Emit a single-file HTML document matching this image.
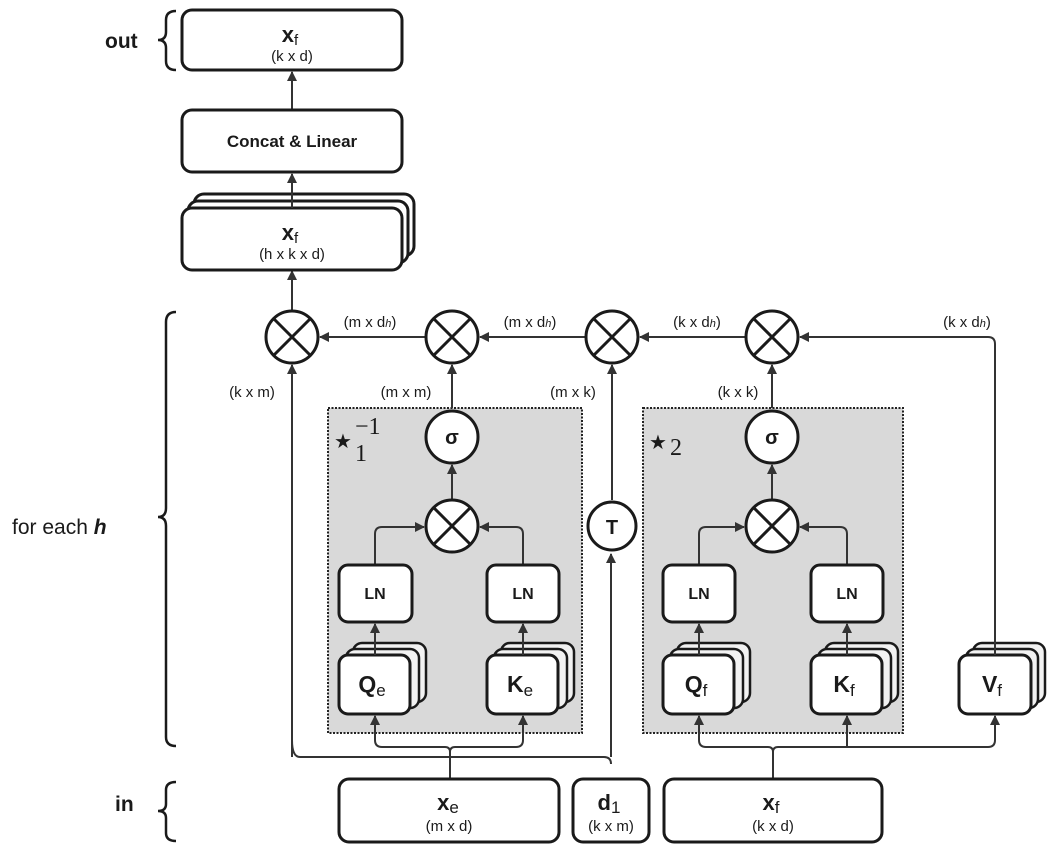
<!DOCTYPE html>
<html><head><meta charset="utf-8"><style>
html,body{margin:0;padding:0;background:#fff;}
svg{display:block;font-family:"Liberation Sans","DejaVu Sans",sans-serif;}
</style></head><body>
<svg width="1058" height="857" viewBox="0 0 1058 857" xmlns="http://www.w3.org/2000/svg">
<defs>
<marker id="a" markerWidth="10" markerHeight="10" refX="9" refY="5" orient="auto" markerUnits="userSpaceOnUse"><path d="M0,0 L10,5 L0,10 z" fill="#333"/></marker>
</defs>
<g fill="none" stroke="#333" stroke-width="2">
<line x1="292" y1="110" x2="292" y2="72" marker-end="url(#a)"/>
<line x1="292" y1="310" x2="292" y2="271" marker-end="url(#a)"/>
<line x1="426" y1="337" x2="320" y2="337" marker-end="url(#a)"/>
<line x1="586" y1="337" x2="480" y2="337" marker-end="url(#a)"/>
<line x1="746" y1="337" x2="640" y2="337" marker-end="url(#a)"/>
<path d="M995,655 L995,344 Q995,337 988,337 L800,337" marker-end="url(#a)"/>
<path d="M611,757 L611,554" marker-end="url(#a)"/>
<line x1="612" y1="500" x2="612" y2="365" marker-end="url(#a)"/>
<path d="M292,740 Q292,757 300,757 L604,757 Q611,757 611,764"/>
<path d="M292,757 L292,365" marker-end="url(#a)"/>
</g>
<rect x="328" y="408" width="254" height="325" fill="#d9d9d9" stroke="#222" stroke-width="2" stroke-dasharray="2,1.5"/>
<rect x="643" y="408" width="260" height="325" fill="#d9d9d9" stroke="#222" stroke-width="2" stroke-dasharray="2,1.5"/>
<g fill="none" stroke="#333" stroke-width="2">
<line x1="452" y1="408" x2="452" y2="365" marker-end="url(#a)"/>
<line x1="772" y1="408" x2="772" y2="365" marker-end="url(#a)"/>
<line x1="452" y1="500" x2="452" y2="465" marker-end="url(#a)"/>
<line x1="772" y1="500" x2="772" y2="465" marker-end="url(#a)"/>
<path d="M375,565 L375,534 Q375,527 382,527 L424,527" marker-end="url(#a)"/>
<path d="M523,565 L523,534 Q523,527 516,527 L480,527" marker-end="url(#a)"/>
<path d="M699,565 L699,534 Q699,527 706,527 L744,527" marker-end="url(#a)"/>
<path d="M847,565 L847,534 Q847,527 840,527 L800,527" marker-end="url(#a)"/>
<path d="M450,779 L450,752 Q450,747 445,747 L382,747 Q375,747 375,740 L375,716" marker-end="url(#a)"/>
<path d="M450,752 Q450,747 455,747 L516,747 Q523,747 523,740 L523,716" marker-end="url(#a)"/>
<path d="M773,779 L773,752 Q773,747 768,747 L706,747 Q699,747 699,740 L699,716" marker-end="url(#a)"/>
<path d="M773,752 Q773,747 778,747 L988,747 Q995,747 995,740 L995,716" marker-end="url(#a)"/>
<line x1="847" y1="747" x2="847" y2="716" marker-end="url(#a)"/>
</g>
<g stroke="#1a1a1a" stroke-width="3" fill="#fff">
<rect x="182" y="10" width="220" height="60" rx="10"/>
<rect x="182" y="110" width="220" height="62" rx="10"/>
<rect x="194" y="194" width="220" height="62" rx="10"/>
<rect x="188" y="201" width="220" height="62" rx="10"/>
<rect x="182" y="208" width="220" height="62" rx="10"/>
<rect x="339" y="565" width="73" height="57" rx="9"/>
<rect x="487" y="565" width="72" height="57" rx="9"/>
<rect x="663" y="565" width="72" height="57" rx="9"/>
<rect x="811" y="565" width="72" height="57" rx="9"/>
<rect x="339" y="779" width="220" height="63" rx="10"/>
<rect x="573" y="779" width="76" height="63" rx="10"/>
<rect x="664" y="779" width="218" height="63" rx="10"/>
</g>
<g stroke="#1a1a1a" stroke-width="2.5" fill="#f2f2f2">
<rect x="353" y="643" width="73" height="59" rx="9"/><rect x="346" y="649" width="73" height="59" rx="9"/>
<rect x="501" y="643" width="73" height="59" rx="9"/><rect x="494" y="649" width="73" height="59" rx="9"/>
<rect x="677" y="643" width="73" height="59" rx="9"/><rect x="670" y="649" width="73" height="59" rx="9"/>
<rect x="825" y="643" width="73" height="59" rx="9"/><rect x="818" y="649" width="73" height="59" rx="9"/>
<rect x="973" y="643" width="72" height="59" rx="9"/><rect x="966" y="649" width="72" height="59" rx="9"/>
</g>
<g stroke="#1a1a1a" stroke-width="3" fill="#fff">
<rect x="339" y="655" width="71" height="59" rx="9"/>
<rect x="487" y="655" width="71" height="59" rx="9"/>
<rect x="663" y="655" width="71" height="59" rx="9"/>
<rect x="811" y="655" width="71" height="59" rx="9"/>
<rect x="959" y="655" width="72" height="59" rx="9"/>
</g>
<g stroke="#333" stroke-width="2" fill="none">
<line x1="375" y1="655" x2="375" y2="624" marker-end="url(#a)"/>
<line x1="523" y1="655" x2="523" y2="624" marker-end="url(#a)"/>
<line x1="699" y1="655" x2="699" y2="624" marker-end="url(#a)"/>
<line x1="847" y1="655" x2="847" y2="624" marker-end="url(#a)"/>
<line x1="995" y1="655" x2="995" y2="630"/>
<line x1="292" y1="208" x2="292" y2="174" marker-end="url(#a)"/>
</g>
<g stroke="#1a1a1a" stroke-width="3" fill="#fff">
<circle cx="292" cy="337" r="26"/><circle cx="452" cy="337" r="26"/><circle cx="612" cy="337" r="26"/><circle cx="772" cy="337" r="26"/>
<circle cx="452" cy="526" r="26"/><circle cx="772" cy="526" r="26"/>
<circle cx="452" cy="437" r="26"/><circle cx="772" cy="437" r="26"/>
<circle cx="612" cy="526" r="24"/>
</g>
<g stroke="#1a1a1a" stroke-width="3">
<path d="M274,319 L310,355 M310,319 L274,355"/>
<path d="M434,319 L470,355 M470,319 L434,355"/>
<path d="M594,319 L630,355 M630,319 L594,355"/>
<path d="M754,319 L790,355 M790,319 L754,355"/>
<path d="M434,508 L470,544 M470,508 L434,544"/>
<path d="M754,508 L790,544 M790,508 L754,544"/>
</g>
<g fill="none" stroke="#1a1a1a" stroke-width="2.5">
<path d="M176,11 Q166,11 166,20 L166,32 Q166,40 158,40 Q166,40 166,48 L166,61 Q166,70 176,70"/>
<path d="M176,312 Q166,312 166,322 L166,508 Q166,517 158,517 Q166,517 166,526 L166,737 Q166,746 176,746"/>
<path d="M176,782 Q166,782 166,790 L166,804 Q166,811 158,811 Q166,811 166,818 L166,833 Q166,841 176,841"/>
</g>
<g fill="#1a1a1a" text-anchor="middle">
<text x="290" y="42" font-size="22" font-weight="bold">x<tspan font-size="15" font-weight="normal" dy="3">f</tspan></text>
<text x="292" y="61" font-size="15">(k x d)</text>
<text x="292" y="147" font-size="17" font-weight="bold">Concat &amp; Linear</text>
<text x="290" y="240" font-size="22" font-weight="bold">x<tspan font-size="15" font-weight="normal" dy="3">f</tspan></text>
<text x="292" y="259" font-size="15">(h x k x d)</text>
<text x="375" y="599" font-size="16" font-weight="bold">LN</text>
<text x="523" y="599" font-size="16" font-weight="bold">LN</text>
<text x="699" y="599" font-size="16" font-weight="bold">LN</text>
<text x="847" y="599" font-size="16" font-weight="bold">LN</text>
<text x="372" y="692" font-size="23" font-weight="bold">Q<tspan font-size="17" font-weight="normal" dy="4">e</tspan></text>
<text x="520" y="692" font-size="23" font-weight="bold">K<tspan font-size="17" font-weight="normal" dy="4">e</tspan></text>
<text x="696" y="692" font-size="23" font-weight="bold">Q<tspan font-size="17" font-weight="normal" dy="4">f</tspan></text>
<text x="844" y="692" font-size="23" font-weight="bold">K<tspan font-size="17" font-weight="normal" dy="4">f</tspan></text>
<text x="992" y="692" font-size="23" font-weight="bold">V<tspan font-size="17" font-weight="normal" dy="4">f</tspan></text>
<text x="448" y="810" font-size="22" font-weight="bold">x<tspan font-size="17" font-weight="normal" dy="3">e</tspan></text>
<text x="449" y="831" font-size="15">(m x d)</text>
<text x="609" y="810" font-size="22" font-weight="bold">d<tspan font-size="17" font-weight="normal" dy="3">1</tspan></text>
<text x="611" y="831" font-size="15">(k x m)</text>
<text x="771" y="810" font-size="22" font-weight="bold">x<tspan font-size="17" font-weight="normal" dy="3">f</tspan></text>
<text x="773" y="831" font-size="15">(k x d)</text>
<text x="452" y="444" font-size="20" font-weight="bold">σ</text>
<text x="772" y="444" font-size="20" font-weight="bold">σ</text>
<text x="612" y="534" font-size="20" font-weight="bold">T</text>
<text x="370" y="327" font-size="15">(m x d<tspan font-size="11" font-style="italic">h</tspan>)</text>
<text x="530" y="327" font-size="15">(m x d<tspan font-size="11" font-style="italic">h</tspan>)</text>
<text x="697" y="327" font-size="15">(k x d<tspan font-size="11" font-style="italic">h</tspan>)</text>
<text x="967" y="327" font-size="15">(k x d<tspan font-size="11" font-style="italic">h</tspan>)</text>
<text x="252" y="397" font-size="15">(k x m)</text>
<text x="406" y="397" font-size="15">(m x m)</text>
<text x="573" y="397" font-size="15">(m x k)</text>
<text x="738" y="397" font-size="15">(k x k)</text>
</g>
<g fill="#1a1a1a">
<text x="105" y="48" font-size="21" font-weight="bold">out</text>
<text x="115" y="811" font-size="21" font-weight="bold">in</text>
<text x="12" y="534" font-size="21">for each <tspan font-weight="bold" font-style="italic">h</tspan></text>
<text x="334" y="448" font-size="20" font-family="DejaVu Sans, sans-serif">★</text>
<text x="355" y="461" font-size="24" font-family="Liberation Serif, serif">1</text>
<text x="355" y="434" font-size="24" font-family="Liberation Serif, serif">−1</text>
<text x="649" y="449" font-size="20" font-family="DejaVu Sans, sans-serif">★</text>
<text x="670" y="455" font-size="24" font-family="Liberation Serif, serif">2</text>
</g>
</svg>
</body></html>
